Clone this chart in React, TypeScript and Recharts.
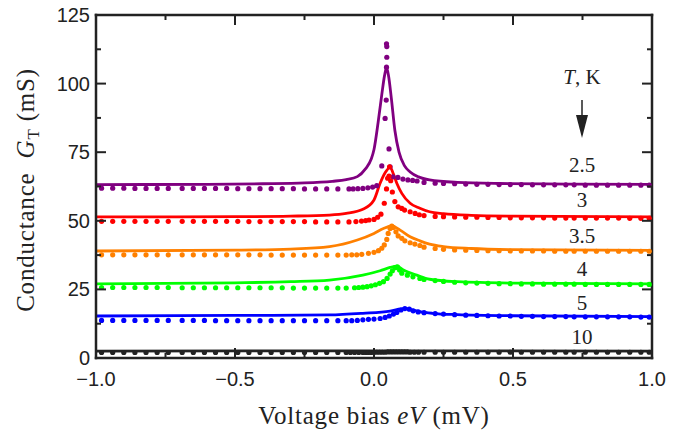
import React from "react";
import { ComposedChart, Line, Scatter, XAxis, YAxis } from "recharts";

// temperatures (K) and colours, top curve first
const temps = ["2.5", "3", "3.5", "4", "5", "10"];
const colors = ["#800080", "#ff0000", "#ff8000", "#00ff00", "#0000ff", "#222222"];

const xTicks = [-1, -0.75, -0.5, -0.25, 0, 0.25, 0.5, 0.75, 1];
const yTicks = [0, 12.5, 25, 37.5, 50, 62.5, 75, 87.5, 100, 112.5, 125];

// measured points: flat wings share the same bias values
const dotXLeft = [-0.98, -0.94, -0.9, -0.86, -0.82, -0.78, -0.74, -0.69, -0.65, -0.61, -0.57, -0.53, -0.49, -0.45, -0.41, -0.37, -0.33, -0.29, -0.25, -0.21, -0.17, -0.13];
const dotXRight = [0.18, 0.22, 0.25, 0.29, 0.33, 0.37, 0.41, 0.45, 0.49, 0.53, 0.57, 0.61, 0.65, 0.69, 0.72, 0.76, 0.8, 0.84, 0.88, 0.92, 0.96, 0.99];

const dotsLeftY = [
  [61.9, 61.9, 61.9, 61.8, 61.8, 61.8, 61.8, 61.8, 61.8, 61.8, 61.8, 61.8, 61.7, 61.7, 61.7, 61.7, 61.7, 61.7, 61.6, 61.6, 61.6, 61.6],
  [49.8, 49.8, 49.8, 49.8, 49.8, 49.8, 49.8, 49.8, 49.8, 49.8, 49.8, 49.8, 49.8, 49.7, 49.7, 49.7, 49.7, 49.7, 49.7, 49.6, 49.6, 49.6],
  [37.6, 37.6, 37.6, 37.6, 37.6, 37.6, 37.6, 37.6, 37.6, 37.6, 37.6, 37.6, 37.6, 37.6, 37.6, 37.5, 37.5, 37.5, 37.5, 37.5, 37.5, 37.5],
  [25.7, 25.7, 25.7, 25.7, 25.7, 25.7, 25.7, 25.6, 25.6, 25.6, 25.6, 25.6, 25.6, 25.6, 25.6, 25.6, 25.6, 25.5, 25.5, 25.5, 25.5, 25.5],
  [13.7, 13.7, 13.7, 13.7, 13.7, 13.7, 13.7, 13.7, 13.7, 13.7, 13.6, 13.6, 13.6, 13.6, 13.6, 13.6, 13.6, 13.6, 13.6, 13.6, 13.6, 13.6],
  [2.0, 2.0, 2.0, 2.0, 2.0, 2.0, 2.0, 2.0, 2.0, 2.0, 2.0, 2.0, 2.0, 2.0, 2.0, 2.0, 2.0, 2.0, 2.0, 2.0, 2.0, 2.0],
];

const dotsRightY = [
  [64.0, 63.7, 63.6, 63.5, 63.4, 63.3, 63.3, 63.2, 63.2, 63.2, 63.1, 63.1, 63.1, 63.1, 63.1, 63.0, 63.0, 63.0, 63.0, 63.0, 63.0, 63.0],
  [51.9, 51.6, 51.5, 51.4, 51.3, 51.3, 51.2, 51.2, 51.1, 51.1, 51.1, 51.1, 51.0, 51.0, 51.0, 51.0, 51.0, 51.0, 51.0, 50.9, 50.9, 50.9],
  [40.4, 39.9, 39.6, 39.4, 39.3, 39.2, 39.1, 39.1, 39.0, 39.0, 39.0, 39.0, 38.9, 38.9, 38.9, 38.9, 38.9, 38.9, 38.9, 38.9, 38.9, 38.9],
  [28.6, 28.2, 27.9, 27.6, 27.4, 27.3, 27.2, 27.1, 27.1, 27.0, 27.0, 26.9, 26.9, 26.9, 26.9, 26.8, 26.8, 26.8, 26.8, 26.8, 26.8, 26.8],
  [16.5, 16.2, 16.0, 15.8, 15.6, 15.5, 15.4, 15.3, 15.3, 15.2, 15.2, 15.1, 15.1, 15.1, 15.0, 15.0, 15.0, 15.0, 15.0, 15.0, 14.9, 14.9],
  [2.1, 2.1, 2.1, 2.1, 2.1, 2.1, 2.1, 2.1, 2.1, 2.1, 2.1, 2.1, 2.1, 2.1, 2.1, 2.1, 2.1, 2.1, 2.1, 2.1, 2.1, 2.1],
];

// dense points around zero bias [V, G]
const dotsCenter = [
  [[-0.09, 61.6], [-0.075, 61.6], [-0.058, 61.7], [-0.04, 61.8], [-0.022, 62.0], [-0.005, 62.3], [0.01, 62.8], [0.028, 70], [0.04, 87.3], [0.044, 94], [0.045, 106], [0.046, 109.6], [0.046, 113.5], [0.045, 114.5], [0.054, 76.2], [0.058, 69.7], [0.068, 66], [0.086, 65.8], [0.104, 65.2], [0.122, 64.9], [0.139, 64.7], [0.155, 64.5]],
  [[-0.09, 49.6], [-0.065, 49.7], [-0.045, 49.9], [-0.03, 50.1], [-0.018, 50.3], [0.0, 50.5], [0.013, 51.3], [0.025, 52.4], [0.037, 56.4], [0.045, 61.6], [0.049, 65.5], [0.056, 69.7], [0.054, 66.3], [0.06, 64.6], [0.066, 60.5], [0.075, 57], [0.087, 55.1], [0.1, 54.5], [0.11, 53.9], [0.13, 53.3], [0.148, 52.7], [0.163, 52.2]],
  [[-0.1, 37.5], [-0.08, 37.6], [-0.062, 37.6], [-0.044, 37.8], [-0.02, 38.1], [0.0, 38.5], [0.016, 39.1], [0.028, 40], [0.037, 41.2], [0.046, 43.2], [0.051, 45.4], [0.058, 47.2], [0.064, 48.1], [0.069, 47.6], [0.079, 46], [0.087, 44.5], [0.1, 43.6], [0.111, 42.7], [0.13, 42], [0.147, 41.5], [0.165, 41.0]],
  [[-0.1, 25.5], [-0.07, 25.6], [-0.055, 25.7], [-0.04, 25.8], [-0.025, 26.0], [-0.01, 26.3], [0.005, 26.7], [0.02, 27.2], [0.034, 27.8], [0.047, 29.0], [0.058, 30.6], [0.066, 31.8], [0.076, 32.9], [0.084, 33.2], [0.092, 32.1], [0.1, 30.9], [0.12, 30.2], [0.14, 29.6], [0.165, 29.0]],
  [[-0.1, 13.6], [-0.08, 13.6], [-0.06, 13.7], [-0.04, 13.9], [-0.02, 14.1], [0.0, 14.2], [0.022, 14.4], [0.04, 14.8], [0.055, 15.3], [0.07, 16.0], [0.082, 16.6], [0.097, 17.5], [0.111, 18.0], [0.127, 17.8], [0.141, 17.2], [0.159, 16.8]],
  [[-0.1, 2.0], [-0.085, 2.0], [-0.07, 2.0], [-0.055, 2.0], [-0.04, 2.0], [-0.03, 2.0], [-0.02, 2.0], [-0.01, 2.0], [0.0, 2.1], [0.01, 2.1], [0.02, 2.1], [0.03, 2.1], [0.04, 2.1], [0.05, 2.2], [0.06, 2.2], [0.07, 2.2], [0.08, 2.2], [0.09, 2.2], [0.1, 2.2], [0.11, 2.2], [0.12, 2.2], [0.13, 2.1], [0.145, 2.1], [0.16, 2.1]],
];

// theory curves [V, G]
const fits = [
  [[-1, 63.2], [-0.6, 63.3], [-0.4, 63.5], [-0.25, 63.8], [-0.15, 64.4], [-0.1, 65.0], [-0.06, 66.1], [-0.03, 69.0], [-0.01, 72.5], [0.0, 76.0], [0.015, 86], [0.028, 96], [0.038, 103], [0.045, 105.8], [0.052, 103], [0.062, 95], [0.075, 83], [0.09, 75], [0.11, 70], [0.13, 67.8], [0.16, 66], [0.2, 64.9], [0.3, 64.0], [0.45, 63.6], [0.7, 63.4], [1.0, 63.3]],
  [[-1, 51.4], [-0.5, 51.5], [-0.3, 51.7], [-0.16, 52.1], [-0.1, 52.7], [-0.04, 54.2], [0.0, 57.6], [0.022, 63.7], [0.04, 67.5], [0.058, 69.5], [0.07, 67], [0.082, 63.7], [0.1, 60], [0.13, 56.4], [0.165, 54.6], [0.2, 53.3], [0.25, 52.6], [0.35, 52.0], [0.5, 51.7], [1.0, 51.4]],
  [[-1, 39.0], [-0.5, 39.3], [-0.3, 39.7], [-0.16, 40.6], [-0.06, 43.0], [0.0, 45.4], [0.034, 47.2], [0.064, 48.1], [0.094, 46.6], [0.13, 44.2], [0.165, 42.7], [0.2, 41.5], [0.25, 40.6], [0.35, 39.9], [0.5, 39.5], [1.0, 39.2]],
  [[-1, 27.0], [-0.5, 27.4], [-0.3, 27.8], [-0.16, 28.4], [-0.04, 30.2], [0.022, 31.8], [0.058, 33.0], [0.082, 33.5], [0.106, 32.1], [0.154, 30.2], [0.2, 28.7], [0.3, 27.8], [0.5, 27.3], [1.0, 27.0]],
  [[-1, 15.3], [-0.5, 15.5], [-0.16, 15.7], [-0.04, 16.3], [0.058, 17.1], [0.111, 18.1], [0.13, 17.7], [0.165, 16.9], [0.21, 16.3], [0.3, 15.8], [0.5, 15.4], [1.0, 15.1]],
  [[-1, 2.5], [0, 2.6], [1, 2.5]],
];

const AX = "#222";
const SANS = "'Liberation Sans', Arial, sans-serif";
const SERIF = "'Liberation Serif', 'Times New Roman', serif";

const fmtX = (v: number) => (v < 0 ? "\u2212" + Math.abs(v).toFixed(1) : v.toFixed(1));
const isMajorX = (v: number) => Math.abs(v * 2 - Math.round(v * 2)) < 1e-6;
const isMajorY = (v: number) => v % 25 === 0;

function BottomTick({ x, y, payload }: any) {
  const v = payload.value;
  const major = isMajorX(v);
  return (
    <g>
      <line x1={x} x2={x} y1={y} y2={y - (major ? 10 : 5)} stroke={AX} strokeWidth={2} />
      {major && (
        <text x={x} y={y + 28} textAnchor="middle" fontFamily={SANS} fontSize={20} fill={AX}>
          {fmtX(v)}
        </text>
      )}
    </g>
  );
}

function TopTick({ x, y, payload }: any) {
  const major = isMajorX(payload.value);
  return <line x1={x} x2={x} y1={y} y2={y + (major ? 10 : 5)} stroke={AX} strokeWidth={2} />;
}

function LeftTick({ x, y, payload }: any) {
  const v = payload.value;
  const major = isMajorY(v);
  return (
    <g>
      <line x1={x} x2={x + (major ? 10 : 5)} y1={y} y2={y} stroke={AX} strokeWidth={2} />
      {major && (
        <text x={x - 6} y={y + 7} textAnchor="end" fontFamily={SANS} fontSize={20} fill={AX}>
          {v}
        </text>
      )}
    </g>
  );
}

function RightTick({ x, y, payload }: any) {
  const major = isMajorY(payload.value);
  return <line x1={x} x2={x - (major ? 10 : 5)} y1={y} y2={y} stroke={AX} strokeWidth={2} />;
}

const series = temps.map((t, i) => ({
  t,
  color: colors[i],
  fit: fits[i].map(([x, y]) => ({ x, y })),
  dots: [
    ...dotXLeft.map((x, j) => ({ x, y: dotsLeftY[i][j] })),
    ...dotsCenter[i].map(([x, y]) => ({ x, y })),
    ...dotXRight.map((x, j) => ({ x, y: dotsRightY[i][j] })),
  ],
}));

// temperature labels: y centre in px, from the picture
const labelY = [165, 200, 236, 269, 303, 337];

export default function App() {
  const axisLine = { stroke: AX, strokeWidth: 2.5, strokeLinecap: "square" as const };
  return (
    <div style={{ position: "absolute", left: 0, top: 0, width: 693, height: 435, background: "#fff" }}>
      <ComposedChart width={693} height={435} margin={{ top: 14, right: 40, bottom: 47, left: 36 }}>
        <XAxis
          xAxisId="b" dataKey="x" type="number" domain={[-1, 1]} ticks={xTicks} interval={0}
          allowDataOverflow height={30} tickSize={0} tickMargin={0} axisLine={axisLine} tick={<BottomTick />}
        />
        <XAxis
          xAxisId="t" orientation="top" dataKey="x" type="number" domain={[-1, 1]} ticks={xTicks} interval={0}
          allowDataOverflow height={1} tickSize={0} tickMargin={0} axisLine={axisLine} tick={<TopTick />}
        />
        <YAxis
          yAxisId="l" type="number" domain={[0, 125]} ticks={yTicks} interval={0} allowDataOverflow
          width={60} tickSize={0} tickMargin={0} axisLine={axisLine} tick={<LeftTick />}
        />
        <YAxis
          yAxisId="r" orientation="right" type="number" domain={[0, 125]} ticks={yTicks} interval={0} allowDataOverflow
          width={1} tickSize={0} tickMargin={0} axisLine={axisLine} tick={<RightTick />}
        />
        {series.map((s) => (
          <Line
            key={"f" + s.t} xAxisId="b" yAxisId="l" data={s.fit} dataKey="y" type="monotone"
            stroke={s.color} strokeWidth={2.8} dot={false} isAnimationActive={false}
          />
        ))}
        {series.map((s) => (
          <Scatter
            key={"d" + s.t} xAxisId="b" yAxisId="l" data={s.dots} dataKey="y" isAnimationActive={false}
            shape={(p: any) => <circle cx={p.cx} cy={p.cy} r={2.6} fill={s.color} />}
          />
        ))}
      </ComposedChart>
      <svg width={693} height={435} style={{ position: "absolute", left: 0, top: 0, pointerEvents: "none" }}>
        <text transform="translate(34,190) rotate(-90)" textAnchor="middle" fontFamily={SERIF} fontSize={25} fill={AX} letterSpacing={0.8}>
          Conductance{"\u00a0\u00a0"}
          <tspan fontStyle="italic">G</tspan>
          <tspan fontSize={17} dy={5}>T</tspan>
          <tspan dy={-5}>{"\u00a0(mS)"}</tspan>
        </text>
        <text x={374} y={424} textAnchor="middle" fontFamily={SERIF} fontSize={25} fill={AX} letterSpacing={0.8}>
          Voltage bias <tspan fontStyle="italic">eV</tspan> (mV)
        </text>
        <text x={582} y={84} textAnchor="middle" fontFamily={SERIF} fontSize={21} fill={AX}>
          <tspan fontStyle="italic">T</tspan>, K
        </text>
        <line x1={582} x2={582} y1={100} y2={120} stroke={AX} strokeWidth={1.5} />
        <polygon points="576,115 588,115 582,138" fill={AX} />
        {series.map((s, i) => (
          <text key={s.t} x={582} y={labelY[i] + 7} textAnchor="middle" fontFamily={SERIF} fontSize={21} fill={AX}>
            {s.t}
          </text>
        ))}
      </svg>
    </div>
  );
}
